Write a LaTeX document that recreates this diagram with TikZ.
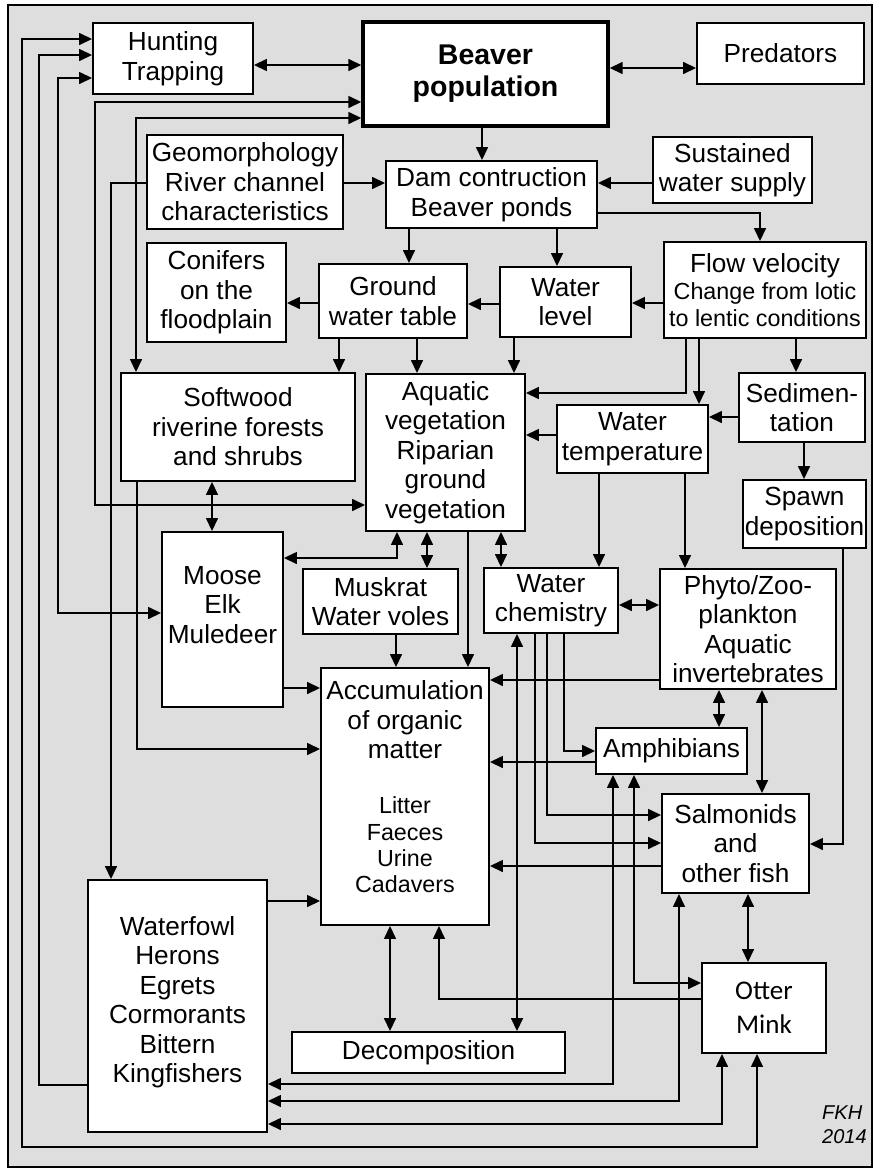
\documentclass[tikz,border=0pt]{standalone}
\usepackage{fontspec}
\setmainfont{Liberation Sans}
\newfontfamily\calfont{Carlito}
\usetikzlibrary{arrows.meta}

\definecolor{paper}{gray}{0.87}
\newcommand{\subtxt}{\fontsize{23.3}{26}\selectfont}

\begin{document}
\begin{tikzpicture}[x=1pt,y=-1pt,
  >={Triangle[length=13pt,width=12pt]},
  every node/.style={inner sep=0pt, align=center, font=\fontsize{26.2}{29.5}\selectfont},
  box/.style={draw, fill=white, line width=1.9pt},
  link/.style={line width=1.5pt}]
\useasboundingbox (0,0) rectangle (878,1170);
\fill[white] (0,0) rectangle (878,1170);
\draw[fill=paper, line width=1.6pt] (8,5) rectangle (872,1167);

\node[box, minimum width=160pt, minimum height=71pt] (Hunt) at (173,58.5) {Hunting\\Trapping};
\node[box, line width=3.4pt, minimum width=245pt, minimum height=104pt, font=\bfseries\fontsize{28.5}{32}\selectfont] (Beav) at (485.5,74) {Beaver\\population};
\node[box, minimum width=167pt, minimum height=61pt] (Pred) at (780.5,53.5) {Predators};
\node[box, minimum width=196pt, minimum height=94pt] (Geo) at (245,182) {Geomorphology\\River channel\\characteristics};
\node[box, minimum width=211pt, minimum height=67pt] (Dam) at (491.5,194.5) {Dam contruction\\Beaver ponds};
\node[box, minimum width=159pt, minimum height=66pt] (Sust) at (732.5,170) {Sustained\\water supply};
\node[box, minimum width=202pt, minimum height=96pt, font=\fontsize{26.2}{27}\selectfont] (Flow) at (765,290) {Flow velocity\\\subtxt Change from lotic\\\subtxt to lentic conditions};
\node[box, minimum width=139pt, minimum height=99pt] (Conif) at (216.5,292.5) {Conifers\\on the\\floodplain};
\node[box, minimum width=148pt, minimum height=74pt] (GWT) at (393,301) {Ground\\water table};
\node[box, minimum width=131pt, minimum height=70pt] (WLev) at (565.5,302) {Water\\level};
\node[box, minimum width=234pt, minimum height=108pt] (Soft) at (238,427) {Softwood\\riverine forests\\and shrubs};
\node[box, minimum width=159pt, minimum height=157pt] (AqV) at (445.5,452.5) {Aquatic\\vegetation\\Riparian\\ground\\vegetation};
\node[box, minimum width=151pt, minimum height=68pt] (WTemp) at (632.5,439) {Water\\temperature};
\node[box, minimum width=126pt, minimum height=69pt] (Sed) at (802,407.5) {Sedimen-\\tation};
\node[box, minimum width=123pt, minimum height=68pt] (Spawn) at (804.5,514) {Spawn\\deposition};
\node[box, minimum width=121pt, minimum height=175pt] (Moose) at (222.5,619.5) {};
\node (MooseTxt) at (222.5,605) {Moose\\Elk\\Muledeer};
\node[box, minimum width=155pt, minimum height=65pt] (Musk) at (380.5,601.5) {Muskrat\\Water voles};
\node[box, minimum width=134pt, minimum height=65pt] (WChem) at (551,600.5) {Water\\chemistry};
\node[box, minimum width=176pt, minimum height=120pt] (Phyto) at (748,629) {Phyto/Zoo-\\plankton\\Aquatic\\invertebrates};
\node[box, minimum width=168pt, minimum height=257pt] (Accum) at (405,796.5) {};
\node (AccumTxt) at (405,720) {Accumulation\\of organic\\matter};
\node[font=\fontsize{23.3}{26.3}\selectfont] (AccumSub) at (405,845) {Litter\\Faeces\\Urine\\Cadavers};
\node[box, minimum width=151pt, minimum height=46pt] (Amph) at (671.5,751) {Amphibians};
\node[box, minimum width=147pt, minimum height=99pt] (Salm) at (735.5,843.5) {Salmonids\\and\\other fish};
\node[box, minimum width=179pt, minimum height=252pt] (Fowl) at (177.5,1006) {};
\node (FowlTxt) at (177.5,1002) {Waterfowl\\Herons\\Egrets\\Cormorants\\Bittern\\Kingfishers};
\node[box, minimum width=273pt, minimum height=41pt] (Decomp) at (428.5,1052.5) {Decomposition};
\node[box, minimum width=124pt, minimum height=90pt, font=\calfont\fontsize{27}{34}\selectfont] (Otter) at (764,1008) {Otter\\Mink};
\node[anchor=north west, align=left, font=\itshape\fontsize{20}{24}\selectfont] (Sign) at (822,1106) {FKH\\2014};

\draw[link,<->] (Hunt.east |- 0,65) -- (Beav.west |- 0,65);
\draw[link,<->] (Beav.east |- 0,68) -- (Pred.west |- 0,68);
\draw[link,->] (Beav.south -| 482,0) -- (Dam.north -| 482,0);
\draw[link,->] (Geo.east |- 0,183) -- (Dam.west |- 0,183);
\draw[link,->] (Sust.west |- 0,183) -- (Dam.east |- 0,183);
\draw[link,->] (Dam.east |- 0,213) -| (Flow.north -| 760,0);
\draw[link,->] (Dam.south -| 409,0) -- (GWT.north -| 409,0);
\draw[link,->] (Dam.south -| 557,0) -- (WLev.north -| 557,0);
\draw[link,->] (Flow.west |- 0,303) -- (WLev.east |- 0,303);
\draw[link,->] (WLev.west |- 0,304) -- (GWT.east |- 0,304);
\draw[link,->] (GWT.west |- 0,303) -- (Conif.east |- 0,303);
\draw[link,->] (GWT.south -| 339,0) -- (Soft.north -| 339,0);
\draw[link,->] (GWT.south -| 417,0) -- (AqV.north -| 417,0);
\draw[link,->] (WLev.south -| 514,0) -- (AqV.north -| 514,0);
\draw[link,->] (Flow.south -| 686,0) |- (AqV.east |- 0,393);
\draw[link,->] (Flow.south -| 699,0) -- (WTemp.north -| 699,0);
\draw[link,->] (Flow.south -| 796,0) -- (Sed.north -| 796,0);
\draw[link,->] (Sed.west |- 0,417) -- (WTemp.east |- 0,417);
\draw[link,->] (WTemp.west |- 0,435) -- (AqV.east |- 0,435);
\draw[link,->] (Sed.south -| 804,0) -- (Spawn.north -| 804,0);
\draw[link,->] (WTemp.south -| 599,0) -- (WChem.north -| 599,0);
\draw[link,->] (WTemp.south -| 685,0) -- (Phyto.north -| 685,0);
\draw[link,->] (Spawn.south -| 843,0) |- (Salm.east |- 0,844);
\draw[link,<->] (AqV.south -| 501,0) -- (WChem.north -| 501,0);
\draw[link,->] (AqV.south -| 468,0) -- (Accum.north -| 468,0);
\draw[link,<->] (Soft.south -| 212,0) -- (Moose.north -| 212,0);
\draw[link,<->] (Moose.east |- 0,558) -| (AqV.south -| 397,0);
\draw[link,<->] (AqV.south -| 427,0) -- (Musk.north -| 427,0);
\draw[link,->] (Musk.south -| 396,0) -- (Accum.north -| 396,0);
\draw[link,->] (Moose.east |- 0,688) -- (Accum.west |- 0,688);
\draw[link,->] (Fowl.east |- 0,901) -- (Accum.west |- 0,901);
\draw[link,<->] (WChem.east |- 0,605) -- (Phyto.west |- 0,605);
\draw[link,->] (Phyto.west |- 0,680) -- (Accum.east |- 0,680);
\draw[link,<->] (Phyto.south -| 719,0) -- (Amph.north -| 719,0);
\draw[link,<->] (Phyto.south -| 762,0) -- (Salm.north -| 762,0);
\draw[link,->] (WChem.south -| 564,0) |- (Amph.west |- 0,751);
\draw[link,->] (WChem.south -| 547,0) |- (Salm.west |- 0,815);
\draw[link,->] (WChem.south -| 535,0) |- (Salm.west |- 0,843);
\draw[link,->] (Amph.west |- 0,762) -- (Accum.east |- 0,762);
\draw[link,->] (Salm.west |- 0,866) -- (Accum.east |- 0,866);
\draw[link,<->] (Accum.south -| 390,0) -- (Decomp.north -| 390,0);
\draw[link,->] (Otter.west |- 0,999) -| (Accum.south -| 439,0);
\draw[link,<->] (WChem.south -| 517,0) -- (Decomp.north -| 517,0);
\draw[link,<->] (Amph.south -| 634,0) |- (Otter.west |- 0,983);
\draw[link,<->] (Salm.south -| 748,0) -- (Otter.north -| 748,0);
\draw[link,<->] (Amph.south -| 613,0) |- (Fowl.east |- 0,1084);
\draw[link,<->] (Salm.south -| 679,0) |- (Fowl.east |- 0,1101);
\draw[link,<->] (Otter.south -| 722,0) |- (Fowl.east |- 0,1124);
\draw[link,<->] (Otter.south -| 757,0) |- (22,1147) |- (Hunt.west |- 0,39);
\draw[link,->] (Fowl.west |- 0,1085) -| (39,55) -- (Hunt.west |- 0,55);
\draw[link,<->] (Moose.west |- 0,613) -| (58,78) -- (Hunt.west |- 0,78);
\draw[link,<->] (AqV.west |- 0,505) -| (95,102) -- (Beav.west |- 0,102);
\draw[link,<->] (Soft.north -| 136,0) |- (Beav.west |- 0,118);
\draw[link,->] (Geo.west |- 0,183) -| (Fowl.north -| 111,0);
\draw[link,->] (Soft.south -| 137,0) |- (Accum.west |- 0,749);
\end{tikzpicture}
\end{document}
